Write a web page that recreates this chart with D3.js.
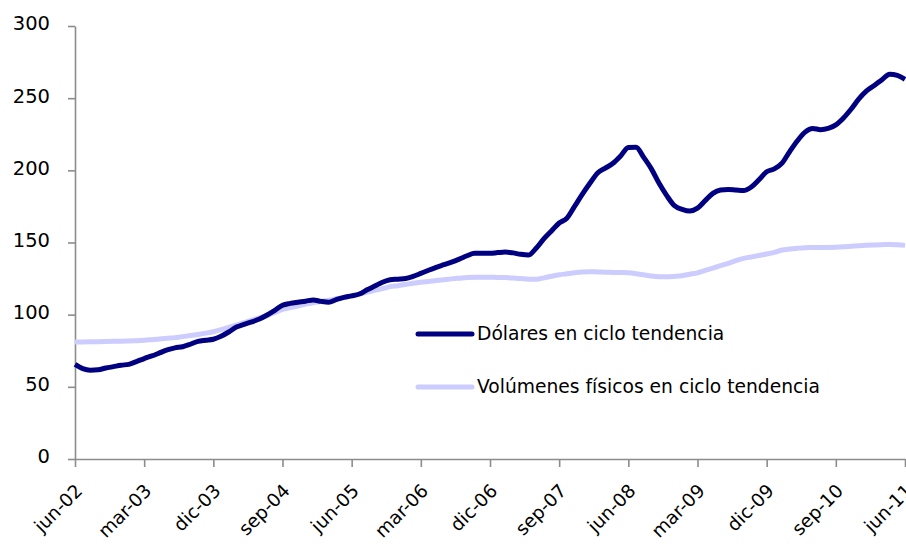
<!DOCTYPE html>
<html>
<head>
<meta charset="utf-8">
<script src="https://cdn.jsdelivr.net/npm/d3@7"></script>
<style>
  body { margin: 0; background: #fff; }
  svg { display: block; font-family: "DejaVu Sans", sans-serif; }
  .axis path, .axis line { stroke: #8c8c8c; stroke-width: 1.6; }
  .axis text { fill: #000; }
</style>
</head>
<body>
<div id="chart"></div>
<script>
// monthly series, jun-02 .. jun-11
var dolares = [
  65.5, 62.6, 61.5, 61.8, 63, 64, 65, 65.6, 67.5, 69.6,
  71.4, 73.5, 75.6, 77, 77.8, 79.5, 81.5, 82.3, 83, 85,
  88, 91.4, 93.3, 95, 97, 99.8, 103, 106.5, 107.8, 108.6,
  109.3, 110.2, 109.2, 108.6, 110.4, 112, 113, 114.3, 117.2, 119.8,
  122.5, 124.2, 124.6, 125, 126.5, 128.6, 130.8, 132.8, 134.6, 136.4,
  138.5, 140.8, 142.5, 142.5, 142.5, 143, 143.4, 142.8, 141.8, 141.3,
  146, 152.5, 158, 163.5, 166.8, 175, 183.3, 191, 198.2, 201.5,
  204.9, 210, 215.8, 216, 209, 201, 191, 182.5, 175.5, 173,
  171.8, 173.8, 179, 184, 186.4, 186.8, 186.4, 186, 188.5, 193.5,
  199, 201, 205, 213, 220.5, 226.5, 229, 228.2, 229, 231.5,
  236.3, 242.5, 249.5, 255, 258.8, 262.8, 266.6, 265.8, 263
]
var volumenes = [
  81, 81.1, 81.2, 81.3, 81.4, 81.5, 81.6, 81.8, 82, 82.3,
  82.7, 83.1, 83.6, 84.1, 84.8, 85.5, 86.3, 87.2, 88.2, 89.6,
  91.2, 92.8, 94.5, 96.2, 97.8, 99.4, 101.5, 103.6, 104.9, 106,
  107.3, 108.3, 109.1, 110, 111, 112, 113, 114.2, 115.6, 116.8,
  118, 119.4, 120.1, 120.9, 121.7, 122.4, 123, 123.6, 124.2, 124.8,
  125.3, 125.8, 126, 126, 125.9, 125.8, 125.7, 125.4, 125, 124.6,
  124.6, 125.5, 126.6, 127.6, 128.3, 129, 129.6, 129.8, 129.6, 129.4,
  129.3, 129.2, 129, 128.4, 127.6, 126.8, 126.3, 126.2, 126.5, 127,
  128, 129, 130.7, 132.2, 134, 135.5, 137.5, 139, 140, 141,
  142, 143.2, 144.8, 145.5, 146, 146.4, 146.5, 146.6, 146.6, 146.7,
  147, 147.4, 147.8, 148.1, 148.3, 148.5, 148.7, 148.5, 148
]
var tickLabels = ["jun-02", "mar-03", "dic-03", "sep-04", "jun-05", "mar-06", "dic-06",
  "sep-07", "jun-08", "mar-09", "dic-09", "sep-10", "jun-11"]
var yTicks = [0, 50, 100, 150, 200, 250, 300]
var seriesNames = ["Dólares en ciclo tendencia", "Volúmenes físicos en ciclo tendencia"]
var seriesColors = ["#000080", "#ccccff"]

var width = 906, height = 547
var margin = { left: 75, right: 1, top: 26, bottom: 88 }

var svg = d3.select("#chart").append("svg")
  .attr("width", width)
  .attr("height", height)

var x = d3.scaleLinear()
  .domain([0, dolares.length - 1])
  .range([margin.left, width - margin.right])

var y = d3.scaleLinear()
  .domain([0, 300])
  .range([height - margin.bottom, margin.top])

// axes
var xAxis = svg.append("g")
  .attr("class", "axis")
  .attr("transform", "translate(0," + y(0) + ")")
  .call(d3.axisBottom(x)
    .tickValues(tickLabels.map(function(d, i) { return i * 9 }))
    .tickFormat(function(d) { return tickLabels[d / 9] })
    .tickSize(8)
    .tickSizeOuter(0))
  .attr("font-family", null)
  .attr("font-size", null)

xAxis.selectAll("text")
  .style("font-size", "18.5px")
  .attr("text-anchor", "end")
  .attr("dy", null)
  .attr("y", null)
  .attr("transform", "translate(8,33) rotate(-45)")

var yAxis = svg.append("g")
  .attr("class", "axis")
  .attr("transform", "translate(" + margin.left + ",0)")
  .call(d3.axisLeft(y)
    .tickValues(yTicks)
    .tickSize(7)
    .tickSizeOuter(0)
    .tickPadding(18))
  .attr("font-family", null)
  .attr("font-size", null)

yAxis.selectAll("text")
  .style("font-size", "19.5px")
  .attr("dy", "0.2em")

// lines
var line = d3.line()
  .x(function(d, i) { return x(i) })
  .y(function(d) { return y(d) })
  .curve(d3.curveMonotoneX)

var data = [volumenes, dolares]
var colors = [seriesColors[1], seriesColors[0]]

svg.selectAll(".serie")
  .data(data)
  .join("path")
    .attr("class", "serie")
    .attr("fill", "none")
    .attr("stroke", function(d, i) { return colors[i] })
    .attr("stroke-width", 5)
    .attr("stroke-linejoin", "round")
    .attr("d", line)

// legend
var legend = svg.append("g")
  .attr("transform", "translate(418,334)")

var item = legend.selectAll("g")
  .data(seriesNames)
  .join("g")
    .attr("transform", function(d, i) { return "translate(0," + i * 53 + ")" })

item.append("line")
  .attr("x1", 0)
  .attr("x2", 54)
  .attr("stroke", function(d, i) { return seriesColors[i] })
  .attr("stroke-width", 5)
  .attr("stroke-linecap", "round")

item.append("text")
  .attr("x", 59)
  .attr("dy", "0.33em")
  .style("font-size", "18.7px")
  .text(function(d) { return d })
</script>
</body>
</html>
